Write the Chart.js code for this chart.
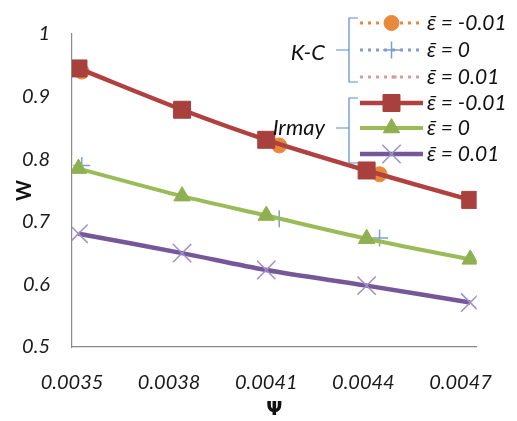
<!DOCTYPE html>
<html>
<head>
<meta charset="utf-8">
<script src="https://cdn.jsdelivr.net/npm/chart.js@4"></script>
<style>
    html, body { margin: 0; padding: 0; background: #fff; }
    #wrap { width: 517px; height: 421px; }
</style>
</head>
<body>
<div id="wrap"><canvas id="chart" width="517" height="421"></canvas></div>
<script>
// ============================================
// Data
// ============================================

const xTickValues = [0.0035, 0.0038, 0.0041, 0.0044, 0.0047];
const yTickValues = [0.5, 0.6, 0.7, 0.8, 0.9, 1];

// Irmay model
const irmayPsi = [0.00352, 0.00384, 0.00410, 0.00441, 0.00473];
const irmayNeg = [0.945, 0.879, 0.831, 0.782, 0.735];
const irmayZero = [0.785, 0.741, 0.710, 0.673, 0.640];
const irmayPos = [0.681, 0.650, 0.623, 0.598, 0.571];

// K-C model
const kcPsi = [0.00353, 0.00414, 0.00445];
const kcNeg = [0.940, 0.822, 0.776];
const kcZero = [0.790, 0.705, 0.674];
const kcPos = [0.680, 0.619, 0.595];

const epsLabels = ['ε\u0304 = -0.01', 'ε\u0304 = 0', 'ε\u0304 = 0.01'];

const FONT = 'Lato, "DejaVu Sans", sans-serif';

function toPoints(xs, ys) {
    return xs.map((x, i) => ({ x: x, y: ys[i] }));
}

// ============================================
// Datasets
// ============================================

// K-C points are plotted as markers only; the dotted style is kept for the legend
function kcSet(label, ys, color, style, radius, width) {
    return {
        label: label,
        group: 'K-C',
        data: toPoints(kcPsi, ys),
        order: 1,
        showLine: false,
        borderColor: color,
        backgroundColor: color,
        borderWidth: 3,
        borderDash: [3, 5],
        pointStyle: style,
        pointRadius: radius,
        pointBorderWidth: width,
        pointBorderColor: color,
        pointBackgroundColor: color
    };
}

function irmaySet(label, ys, color, markColor, style, radius, width, lineWidth) {
    return {
        label: label,
        group: 'Irmay',
        data: toPoints(irmayPsi, ys),
        order: 0,
        borderColor: color,
        backgroundColor: markColor,
        borderWidth: lineWidth,
        pointStyle: style,
        pointRadius: radius,
        pointBorderWidth: width,
        pointBorderColor: markColor,
        pointBackgroundColor: markColor,
        tension: 0.3
    };
}

const datasets = [
    kcSet(epsLabels[0], kcNeg, '#E8893A', 'circle', 7.5, 1),
    kcSet(epsLabels[1], kcZero, '#7D9ED0', 'cross', 8.5, 1.5),
    kcSet(epsLabels[2], kcPos, '#D99A9A', 'dash', 5, 3),
    irmaySet(epsLabels[0], irmayNeg, '#B0413E', '#A8403D', 'rect', 12, 1, 4.5),
    irmaySet(epsLabels[1], irmayZero, '#9BBB59', '#8FB050', 'triangle', 9.5, 1, 4),
    irmaySet(epsLabels[2], irmayPos, '#76589A', '#9F8FC8', 'crossRot', 13, 1.5, 4.5)
];

// ============================================
// Bracketed legend on the right
// ============================================

const bracketLegend = {
    id: 'bracketLegend',
    afterDatasetsDraw(chart) {
        const ctx = chart.ctx;
        const rowY = [23, 50, 77, 103, 128, 154];
        const lineX0 = 360, lineX1 = 423, textX = 427;
        const groups = [
            { name: 'K-C', top: 18, bottom: 82, mid: 50, textY: 53 },
            { name: 'Irmay', top: 98, bottom: 163, mid: 128, textY: 128 }
        ];

        ctx.save();

        // braces + group names
        groups.forEach(g => {
            ctx.strokeStyle = '#5B8BD0';
            ctx.lineWidth = 1.2;
            ctx.setLineDash([]);
            ctx.beginPath();
            ctx.moveTo(358, g.top);
            ctx.lineTo(349, g.top);
            ctx.lineTo(349, g.bottom);
            ctx.lineTo(358, g.bottom);
            ctx.moveTo(349, g.mid);
            ctx.lineTo(336, g.mid);
            ctx.stroke();

            ctx.fillStyle = '#111';
            ctx.font = 'italic 22px ' + FONT;
            ctx.textAlign = 'right';
            ctx.textBaseline = 'middle';
            ctx.fillText(g.name, 325, g.textY);
        });

        // sample lines, markers and labels
        chart.data.datasets.forEach((ds, i) => {
            const y = rowY[i];
            ctx.strokeStyle = ds.borderColor;
            ctx.lineWidth = ds.borderWidth;
            ctx.setLineDash(ds.borderDash || []);
            ctx.beginPath();
            ctx.moveTo(lineX0, y);
            ctx.lineTo(lineX1, y);
            ctx.stroke();

            ctx.setLineDash([]);
            ctx.strokeStyle = ds.pointBorderColor;
            ctx.fillStyle = ds.pointBackgroundColor;
            ctx.lineWidth = ds.pointBorderWidth;
            Chart.helpers.drawPoint(ctx, {
                pointStyle: ds.pointStyle,
                radius: ds.pointRadius,
                rotation: 0,
                borderWidth: ds.pointBorderWidth
            }, (lineX0 + lineX1) / 2, y);

            ctx.fillStyle = '#111';
            ctx.font = 'italic 21px ' + FONT;
            ctx.textAlign = 'left';
            ctx.textBaseline = 'middle';
            ctx.fillText(ds.label, textX, y);
        });

        ctx.restore();
    }
};

// ============================================
// Chart
// ============================================

const tickFont = { family: FONT, size: 20, style: 'italic' };

new Chart(document.getElementById('chart').getContext('2d'), {
    type: 'line',
    data: { datasets: datasets },
    options: {
        responsive: false,
        animation: false,
        layout: { padding: { top: 30, right: 29, left: 0, bottom: 0 } },
        plugins: {
            legend: { display: false },
            tooltip: { enabled: false }
        },
        scales: {
            x: {
                type: 'linear',
                min: 0.0035,
                max: 0.00475,
                afterBuildTicks: s => { s.ticks = xTickValues.map(v => ({ value: v })); },
                afterFit: s => { s.height = 74; },
                grid: { display: false, drawTicks: false },
                border: { color: '#888', width: 1.2 },
                ticks: {
                    autoSkip: false,
                    maxRotation: 0,
                    padding: 24,
                    color: '#1a1a1a',
                    font: tickFont,
                    callback: v => v.toFixed(4)
                },
                title: {
                    display: true,
                    text: 'Ψ',
                    color: '#111',
                    font: { family: '"DejaVu Sans", sans-serif', size: 19, weight: 'bold' },
                    padding: { top: 0, bottom: 0 }
                }
            },
            y: {
                min: 0.5,
                max: 1,
                afterBuildTicks: s => { s.ticks = yTickValues.map(v => ({ value: v })); },
                afterFit: s => { s.width = 72; },
                grid: { display: false, drawTicks: false },
                border: { color: '#888', width: 1.2 },
                ticks: {
                    padding: 22,
                    color: '#1a1a1a',
                    font: tickFont,
                    callback: v => String(+v.toFixed(1))
                },
                title: {
                    display: true,
                    text: 'W',
                    color: '#111',
                    font: { family: FONT, size: 20, weight: 'bold' },
                    padding: { top: 13, bottom: 0 }
                }
            }
        }
    },
    plugins: [bracketLegend]
});
</script>
</body>
</html>
